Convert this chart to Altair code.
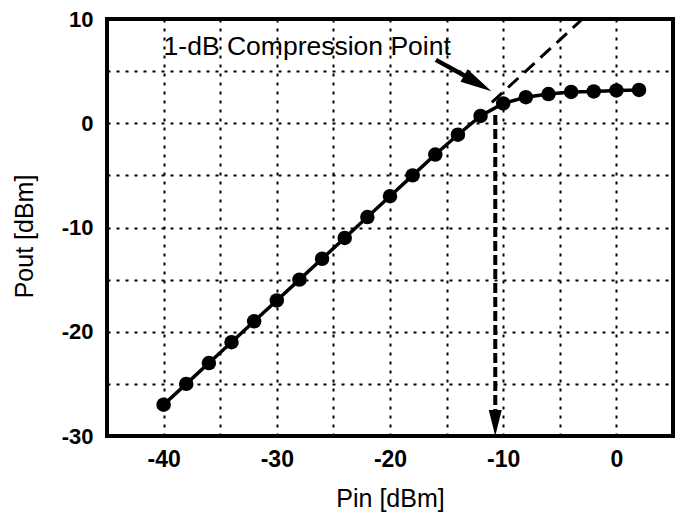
import altair as alt
import pandas as pd

# Measured data
pin = [-40, -38, -36, -34, -32, -30, -28, -26, -24, -22, -20, -18, -16, -14,
       -12, -10, -8, -6, -4, -2, 0, 2]
pout = [-27, -25, -23, -21, -19, -17, -15, -13, -11, -9, -7, -5, -3, -1.1,
        0.7, 1.9, 2.5, 2.8, 3.0, 3.05, 3.15, 3.2]

# Linear extrapolation (dashed)
ext_x = [-11, -3]
ext_y = [2, 10]

# Vertical 1-dB marker (dashed arrow)
vline_x = [-10.7, -10.7]
vline_y = [0.8, -28.2]
vhead_x = [-10.7]
vhead_y = [-28.76]

# Annotation arrow
arr_x = [-15.95, -13.4]
arr_y = [6.08, 4.56]
ahead_x = [-12.25]
ahead_y = [3.82]

ann_x = [-40]
ann_y = [7.3]
ann_text = ["1-dB Compression Point"]

x_ticks = [-45, -40, -35, -30, -25, -20, -15, -10, -5, 0, 5]
y_ticks = [-30, -25, -20, -15, -10, -5, 0, 5, 10]

FONT = "Liberation Sans"

xs = alt.Scale(domain=[-45, 5], nice=False, zero=False)
ys = alt.Scale(domain=[-30, 10], nice=False, zero=False)

X = alt.X("x:Q", scale=xs, axis=alt.Axis(
    values=x_ticks, title="Pin [dBm]",
    labelExpr="datum.value % 10 == 0 && datum.value > -45 && datum.value < 5 ? '' + datum.value : ''",
    ticks=False, domain=False, grid=True, labelPadding=12,
    labelFont=FONT, labelFontSize=23, labelFontWeight="bold", labelColor="black",
    titleFont=FONT, titleFontSize=25, titleFontWeight="normal", titleColor="black",
    titleBaseline="alphabetic", titleY=70, labelFlush=False))
Y = alt.Y("y:Q", scale=ys, axis=alt.Axis(
    values=y_ticks, title="Pout [dBm]",
    labelExpr="datum.value % 10 == 0 ? '' + datum.value : ''",
    ticks=False, domain=False, grid=True, labelPadding=14,
    labelFont=FONT, labelFontSize=22, labelFontWeight="bold", labelColor="black",
    titleFont=FONT, titleFontSize=25, titleFontWeight="normal", titleColor="black",
    titleAngle=-90, titleBaseline="alphabetic", titleAlign="center",
    titleX=-75, titleY=217, labelFlush=False))

main = pd.DataFrame({"x": pin, "y": pout})
ext = pd.DataFrame({"x": ext_x, "y": ext_y})
vl = pd.DataFrame({"x": vline_x, "y": vline_y})
vh = pd.DataFrame({"x": vhead_x, "y": vhead_y})
ar = pd.DataFrame({"x": arr_x, "y": arr_y})
ah = pd.DataFrame({"x": ahead_x, "y": ahead_y})
an = pd.DataFrame({"x": ann_x, "y": ann_y, "t": ann_text})

line = alt.Chart(main).mark_line(color="black", strokeWidth=3.5).encode(x=X, y=Y)
pts = alt.Chart(main).mark_circle(color="black", size=210, opacity=1).encode(x=X, y=Y)
extl = alt.Chart(ext).mark_line(color="black", strokeWidth=3, strokeDash=[14, 8]).encode(x=X, y=Y)
vline = alt.Chart(vl).mark_line(color="black", strokeWidth=4, strokeDash=[10, 4]).encode(x=X, y=Y)
vhead = alt.Chart(vh).mark_point(shape="M-0.5,-1L0.5,-1L0,1Z", size=676, filled=True,
                                 color="black", opacity=1).encode(x=X, y=Y)
arrl = alt.Chart(ar).mark_line(color="black", strokeWidth=4.5).encode(x=X, y=Y)
ahead = alt.Chart(ah).mark_point(shape="M-1,-0.45L1,0L-1,0.45Z", size=1000, filled=True,
                                 color="black", opacity=1, angle=30).encode(x=X, y=Y)
txt = alt.Chart(an).mark_text(align="left", baseline="middle", font=FONT, fontSize=26.5,
                              color="black").encode(x=X, y=Y, text="t:N")

chart = alt.layer(line, pts, extl, vline, vhead, arrl, ahead, txt).properties(
    width=566, height=417,
    padding={"left": 99, "top": 11, "right": 2, "bottom": 82},
    autosize=alt.AutoSizeParams(type="none"),
).configure_view(stroke="black", strokeWidth=4).configure_axis(
    gridColor="black", gridDash=[3, 6], gridWidth=2, gridOpacity=1
)

chart.save("out.html", embed_options={"renderer": "svg", "actions": False})
